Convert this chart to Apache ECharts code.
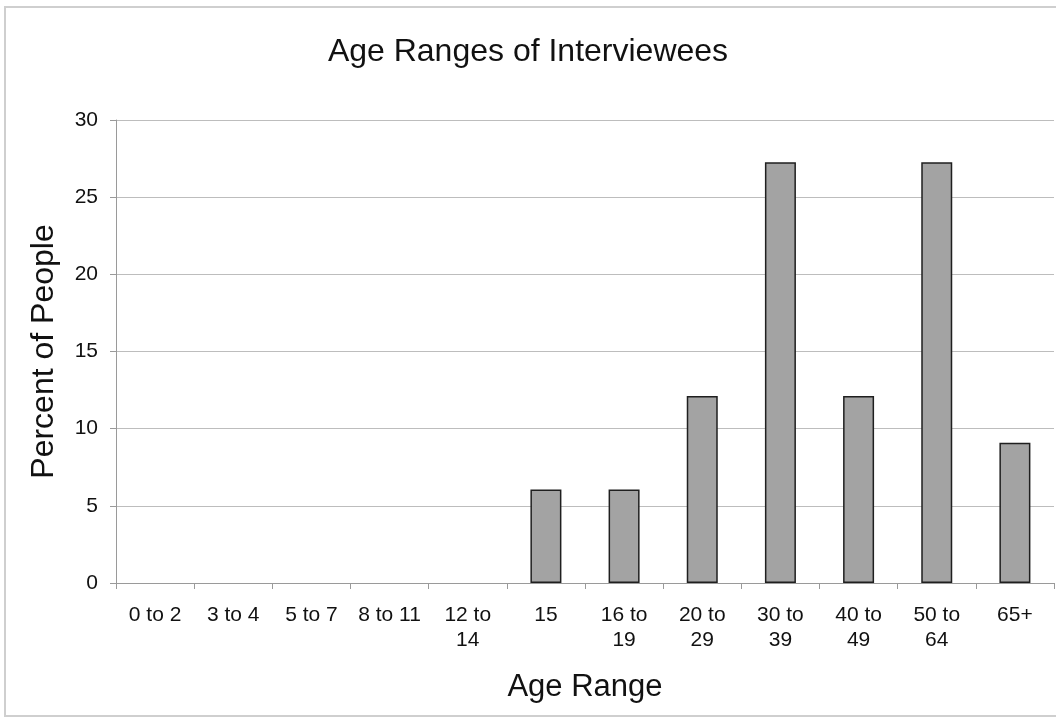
<!DOCTYPE html>
<html>
<head>
<meta charset="utf-8">
<script src="https://cdn.jsdelivr.net/npm/echarts@6/dist/echarts.min.js"></script>
<style>
  html, body { margin: 0; padding: 0; background: #ffffff; }
  #chart { width: 1056px; height: 720px; }
</style>
</head>
<body>
<div id="chart"></div>
<script>
// Age groups of the people interviewed and the share of each group (%)
const ageRanges = ['0 to 2', '3 to 4', '5 to 7', '8 to 11', '12 to\n14', '15',
                   '16 to\n19', '20 to\n29', '30 to\n39', '40 to\n49', '50 to\n64', '65+'];
const percentOfPeople = [0, 0, 0, 0, 0, 6.06, 6.06, 12.12, 27.27, 12.12, 27.27, 9.09];
const percentTicks = [0, 5, 10, 15, 20, 25, 30];

const FONT = '"Liberation Sans", Arial, sans-serif';

// empty groups get no outline so nothing shows on the baseline
const barData = percentOfPeople.map(v =>
  v === 0 ? { value: v, itemStyle: { borderWidth: 0 } } : v);

const chart = echarts.init(document.getElementById('chart'), null, { renderer: 'canvas' });

chart.setOption({
  animation: false,
  backgroundColor: '#ffffff',
  graphic: [{
    type: 'rect',
    shape: { x: 5, y: 7, width: 1060, height: 709 },
    style: { fill: 'none', stroke: '#cfcfcf', lineWidth: 2 },
    silent: true,
    z: -1
  }],
  title: {
    text: 'Age Ranges of Interviewees',
    left: 'center',
    top: 31,
    textStyle: { fontFamily: FONT, fontSize: 32, fontWeight: 'normal', color: '#111' }
  },
  grid: { left: 116, right: 2, top: 120, bottom: 137, containLabel: false },
  xAxis: {
    type: 'category',
    data: ageRanges,
    name: 'Age Range',
    nameLocation: 'middle',
    nameGap: 89,
    nameTextStyle: { fontFamily: FONT, fontSize: 31, color: '#111', verticalAlign: 'top' },
    axisLine: { lineStyle: { color: '#9a9a9a', width: 1 } },
    axisTick: { show: true, alignWithLabel: false, length: 6, lineStyle: { color: '#9a9a9a' } },
    axisLabel: { fontFamily: FONT, fontSize: 21, color: '#111', margin: 20, lineHeight: 25, interval: 0 }
  },
  yAxis: {
    type: 'value',
    min: percentTicks[0],
    max: percentTicks[percentTicks.length - 1],
    interval: 5,
    name: 'Percent of People',
    nameLocation: 'middle',
    nameGap: 56,
    nameRotate: 90,
    nameTextStyle: { fontFamily: FONT, fontSize: 32, color: '#111' },
    axisLine: { show: true, lineStyle: { color: '#9a9a9a', width: 1 } },
    axisTick: { show: true, length: 6, lineStyle: { color: '#9a9a9a' } },
    axisLabel: { fontFamily: FONT, fontSize: 21, color: '#111', margin: 18 },
    splitLine: { show: true, lineStyle: { color: '#bdbdbd', width: 1 } }
  },
  series: [{
    type: 'bar',
    data: barData,
    barWidth: 31,
    itemStyle: { color: '#a3a3a3', borderColor: '#1f1f1f', borderWidth: 1.5 }
  }]
});
</script>
</body>
</html>
